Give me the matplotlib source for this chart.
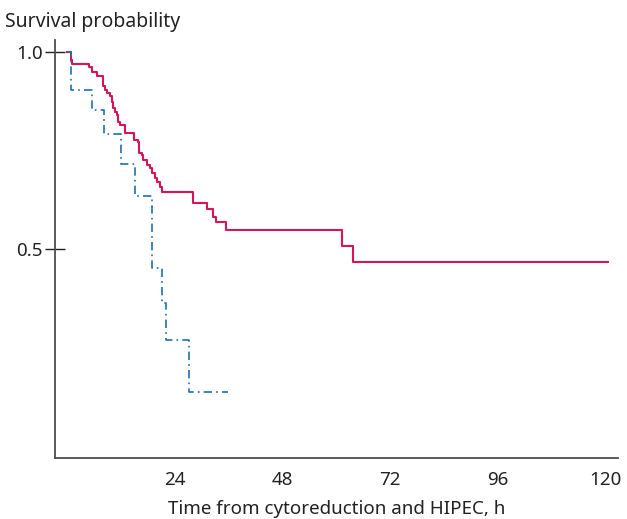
import matplotlib
matplotlib.use('Agg')
import matplotlib.pyplot as plt

# Kaplan-Meier steps: (time of drop in h, survival after drop)
red_times = [0, 0.8, 1.1, 4.9, 5.6, 6.6, 8.1, 8.5, 8.8, 9.6, 10.0, 10.3, 10.7, 11.1,
             11.4, 11.8, 12.9, 14.8, 15.9, 16.1, 16.6, 17.0, 17.8, 18.5, 18.9, 19.6,
             20.0, 20.7, 21.1, 28.1, 31.1, 32.6, 33.1, 35.4, 61.2, 63.6, 120.5]
red_surv = [1.0, 0.980, 0.970, 0.961, 0.950, 0.940, 0.914, 0.904, 0.895, 0.887, 0.874,
            0.857, 0.848, 0.840, 0.823, 0.815, 0.794, 0.777, 0.772, 0.743, 0.739, 0.726,
            0.713, 0.705, 0.692, 0.679, 0.671, 0.658, 0.645, 0.616, 0.601, 0.582, 0.568,
            0.548, 0.508, 0.468, 0.468]

blue_times = [0, 0.8, 5.5, 8.2, 12.0, 15.1, 19.0, 21.1, 22.0, 27.2, 35.9]
blue_surv = [1.0, 0.902, 0.853, 0.792, 0.716, 0.635, 0.451, 0.362, 0.269, 0.138, 0.138]

x_ticks = [24, 48, 72, 96, 120]
y_ticks = [0.5, 1.0]

plt.rcParams['font.family'] = ['Noto Sans', 'DejaVu Sans']

fig = plt.figure(figsize=(6.27, 5.19), dpi=100)
ax = fig.add_axes([0.0877, 0.1175, 0.8979, 0.8054])

ax.step(red_times, red_surv, where='post', color='#d5145a', lw=1.5)
ax.step(blue_times, blue_surv, where='post', color='#1f6fae', lw=1.2,
        dashes=(5, 2.5, 1, 2.5))

ax.set_xlim(-2.7, 122.7)
ax.set_ylim(-0.03, 1.03)

for side in ['top', 'right']:
    ax.spines[side].set_visible(False)
for side in ['left', 'bottom']:
    ax.spines[side].set_color('#4d4d4d')
    ax.spines[side].set_linewidth(1.3)

ax.set_xticks(x_ticks)
ax.set_xticklabels([str(t) for t in x_ticks])
ax.set_yticks(y_ticks)
ax.set_yticklabels(['0.5', '1.0'])
ax.tick_params(axis='x', length=0, pad=9, labelsize=13.5, labelcolor='#222222')
ax.tick_params(axis='y', direction='inout', length=14, width=1.0, color='#222222',
               pad=2, labelsize=13.5, labelcolor='#222222')

ax.set_xlabel('Time from cytoreduction and HIPEC, h', fontsize=13.5, labelpad=8,
              color='#222222')
fig.text(0.008, 0.958, 'Survival probability', fontsize=14, color='#222222',
         ha='left', va='center')

fig.savefig('out.png', dpi=100)
